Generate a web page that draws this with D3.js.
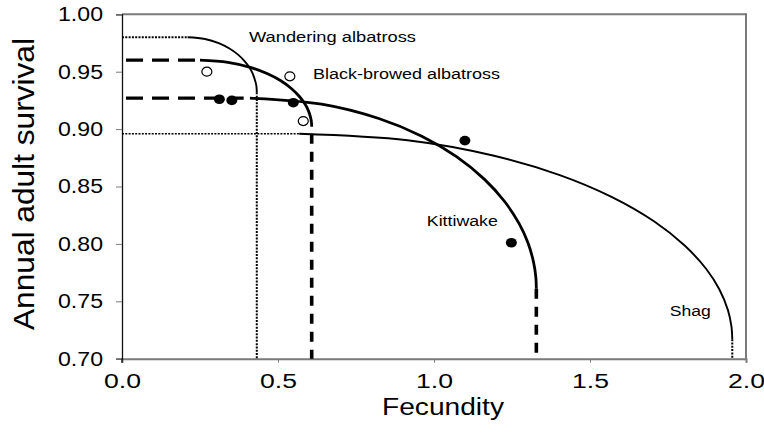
<!DOCTYPE html>
<html><head><meta charset="utf-8">
<script src="https://cdn.jsdelivr.net/npm/d3@7"></script>
<style>
body{margin:0;background:#fff}
text{font-family:"Liberation Sans",Arial,sans-serif;fill:#000}
</style>
</head><body>
<svg id="chart" width="764" height="433"></svg>
<script>
// ---------- data ----------
const xTicks = [0, 0.5, 1.0, 1.5, 2.0];
const yTicks = [0.70, 0.75, 0.80, 0.85, 0.90, 0.95, 1.00];
const xTickLabels = ["0.0", "0.5", "1.0", "1.5", "2.0"];
const yTickLabels = ["0.70", "0.75", "0.80", "0.85", "0.90", "0.95", "1.00"];

const wanderingCurve = [[0.210,0.980],[0.266,0.9785],[0.310,0.9749],[0.343,0.9704],[0.370,0.9653],[0.392,0.9595],[0.408,0.9539],[0.419,0.9484],[0.425,0.9437],[0.430,0.9388],[0.4316,0.935],[0.432,0.932]];
const blackBrowedCurve = [[0.250,0.960],[0.3395,0.9582],[0.4111,0.9538],[0.4648,0.9484],[0.5078,0.9423],[0.5436,0.9352],[0.5686,0.9284],[0.5865,0.9218],[0.5973,0.9161],[0.6044,0.9102],[0.6073,0.9057],[0.608,0.902]];
const kittiwakeCurve = [[0.410,0.927],[0.6395,0.9217],[0.8231,0.9092],[0.9608,0.8938],[1.071,0.8762],[1.1628,0.856],[1.227,0.8367],[1.2729,0.8176],[1.3005,0.8014],[1.3188,0.7844],[1.3262,0.7715],[1.328,0.761]];
const shagCurve = [[0.568,0.896],[0.915,0.8903],[1.1926,0.8768],[1.4008,0.8602],[1.5674,0.8412],[1.7062,0.8195],[1.8033,0.7986],[1.8727,0.7781],[1.9144,0.7605],[1.9421,0.7423],[1.9532,0.7283],[1.956,0.717]];

const openPoints = [[0.272,0.950],[0.538,0.946],[0.581,0.907]];
const filledPoints = [[0.312,0.926],[0.352,0.925],[0.549,0.923],[1.099,0.890],[1.248,0.801]];

const speciesNames = ["Wandering albatross", "Black-browed albatross", "Kittiwake", "Shag"];
const xTitle = "Fecundity";
const yTitle = "Annual adult survival";

// ---------- chart ----------
const svg = d3.select("#chart");
const x = d3.scaleLinear().domain([0, 2]).range([122, 746]);
const y = d3.scaleLinear().domain([0.70, 1.00]).range([358.7, 14.3]);
const line = d3.line().x(d => x(d[0])).y(d => y(d[1])).curve(d3.curveCatmullRom.alpha(0.5));
const yMin = 0.70;

// frame (top/right)
svg.append("line").attr("x1", x(0)).attr("x2", x(2)).attr("y1", y(1)).attr("y2", y(1))
  .attr("stroke", "#7a7a7a").attr("stroke-width", 2);
svg.append("line").attr("x1", x(2)).attr("x2", x(2)).attr("y1", y(1) - 1).attr("y2", y(yMin))
  .attr("stroke", "#7a7a7a").attr("stroke-width", 2);

// x axis
const xAxis = d3.axisBottom(x).tickValues(xTicks).tickFormat((d, i) => xTickLabels[i])
  .tickSizeOuter(0).tickSize(4).tickPadding(11);
const gx = svg.append("g").attr("transform", `translate(0,${y(yMin)})`).call(xAxis);
gx.select(".domain").attr("stroke", "#7a7a7a").attr("stroke-width", 2);
gx.selectAll(".tick line").attr("stroke", "#7a7a7a");
gx.selectAll("text").attr("font-size", 20).attr("textLength", 37).attr("lengthAdjust", "spacingAndGlyphs");

// y axis
const yAxis = d3.axisLeft(y).tickValues(yTicks).tickFormat((d, i) => yTickLabels[i])
  .tickSizeOuter(0).tickSize(6).tickPadding(13);
const gy = svg.append("g").attr("transform", `translate(${x(0)},0)`).call(yAxis);
gy.select(".domain").attr("stroke", "#111").attr("stroke-width", 1.3);
gy.selectAll(".tick line").attr("stroke", "#7a7a7a");
gy.selectAll("text").attr("font-size", 20).attr("textLength", 45).attr("lengthAdjust", "spacingAndGlyphs");
svg.append("line").attr("x1", x(0)).attr("x2", x(0)).attr("y1", y(yMin)).attr("y2", y(yMin) + 4)
  .attr("stroke", "#111").attr("stroke-width", 1.3);

// axis titles
svg.append("text").attr("x", 443).attr("y", 415).attr("text-anchor", "middle")
  .attr("font-size", 23).attr("textLength", 122).attr("lengthAdjust", "spacingAndGlyphs").text(xTitle);
svg.append("text").attr("transform", "translate(34,184) rotate(-90)").attr("text-anchor", "middle")
  .attr("font-size", 30).attr("textLength", 292).attr("lengthAdjust", "spacingAndGlyphs").text(yTitle);

// reference lines
function hline(yv, x1, style) {
  return svg.append("line").attr("x1", x(0)).attr("x2", x(x1)).attr("y1", y(yv)).attr("y2", y(yv))
    .attr("stroke", "#000").attr("stroke-width", style.w).attr("stroke-dasharray", style.d)
    .attr("stroke-dashoffset", style.o || 0);
}
function vline(xv, y1, style) {
  return svg.append("line").attr("x1", x(xv)).attr("x2", x(xv)).attr("y1", y(y1)).attr("y2", y(yMin))
    .attr("stroke", "#000").attr("stroke-width", style.w).attr("stroke-dasharray", style.d)
    .attr("stroke-dashoffset", style.o || 0);
}
const dotted = {w: 2, d: "2,1.3"};
const dashedH = {w: 3.2, d: "17,9", o: 22};
const dashedV = {w: 3.6, d: "10,8", o: 11};

const wS = wanderingCurve[0], wE = wanderingCurve[wanderingCurve.length - 1];
const bS = blackBrowedCurve[0], bE = blackBrowedCurve[blackBrowedCurve.length - 1];
const kS = kittiwakeCurve[0], kE = kittiwakeCurve[kittiwakeCurve.length - 1];
const sS = shagCurve[0], sE = shagCurve[shagCurve.length - 1];

hline(wS[1], wS[0], dotted);
hline(sS[1], sS[0], {w: 1.4, d: "2,1.3"});
hline(bS[1], bS[0], dashedH);
hline(kS[1], kS[0] - 0.02, dashedH);
vline(wE[0], wE[1], dotted);
vline(sE[0], sE[1], dotted);
vline(bE[0], bE[1], dashedV);
vline(kE[0], kE[1], {w: 3.6, d: "10,8", o: 0});

// curves
svg.append("path").attr("d", line(wanderingCurve)).attr("fill", "none").attr("stroke", "#000").attr("stroke-width", 1.9);
svg.append("path").attr("d", line(shagCurve)).attr("fill", "none").attr("stroke", "#000").attr("stroke-width", 1.9);
svg.append("path").attr("d", line(blackBrowedCurve)).attr("fill", "none").attr("stroke", "#000").attr("stroke-width", 2.8);
svg.append("path").attr("d", line(kittiwakeCurve)).attr("fill", "none").attr("stroke", "#000").attr("stroke-width", 2.8);

// points
svg.selectAll("ellipse.open").data(openPoints).join("ellipse").attr("class", "open")
  .attr("cx", d => x(d[0])).attr("cy", d => y(d[1])).attr("rx", 5).attr("ry", 4.5)
  .attr("fill", "#fff").attr("stroke", "#000").attr("stroke-width", 1.2);
svg.selectAll("ellipse.filled").data(filledPoints).join("ellipse").attr("class", "filled")
  .attr("cx", d => x(d[0])).attr("cy", d => y(d[1])).attr("rx", 5.5).attr("ry", 4.8)
  .attr("fill", "#000");

// species labels
const labelFont = 15.5;
svg.append("text").attr("x", x(0.407)).attr("y", y(0.976)).attr("font-size", labelFont)
  .attr("textLength", 167).attr("lengthAdjust", "spacingAndGlyphs").text(speciesNames[0]);
svg.append("text").attr("x", x(0.612)).attr("y", y(0.944)).attr("font-size", labelFont)
  .attr("textLength", 187).attr("lengthAdjust", "spacingAndGlyphs").text(speciesNames[1]);
svg.append("text").attr("x", x(0.977)).attr("y", y(0.8156)).attr("font-size", labelFont)
  .attr("textLength", 71).attr("lengthAdjust", "spacingAndGlyphs").text(speciesNames[2]);
svg.append("text").attr("x", x(1.756)).attr("y", y(0.7372)).attr("font-size", labelFont)
  .attr("textLength", 41).attr("lengthAdjust", "spacingAndGlyphs").text(speciesNames[3]);
</script>
</body></html>
